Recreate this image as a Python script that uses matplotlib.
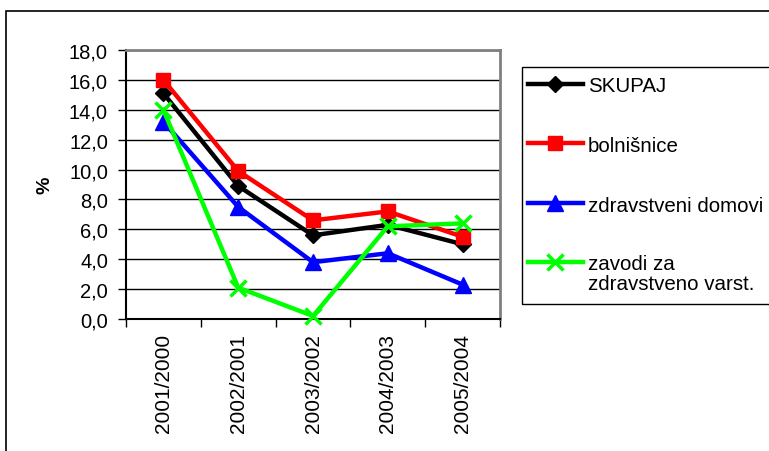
import matplotlib.pyplot as plt
from matplotlib.lines import Line2D
from matplotlib.patches import Rectangle

plt.rcParams["font.family"] = ["Liberation Sans", "DejaVu Sans"]

periods = ["2001/2000", "2002/2001", "2003/2002", "2004/2003", "2005/2004"]
skupaj = [15.1, 8.9, 5.6, 6.3, 5.0]
bolnisnice = [16.0, 9.9, 6.6, 7.2, 5.5]
zd_domovi = [13.2, 7.5, 3.8, 4.4, 2.3]
zavodi = [14.0, 2.1, 0.2, 6.2, 6.4]

series = [
    ("SKUPAJ", skupaj, "black", "D", 8),
    ("bolnišnice", bolnisnice, "#ff0000", "s", 10),
    ("zdravstveni domovi", zd_domovi, "#0000ff", "^", 11),
    ("zavodi za\nzdravstveno varst.", zavodi, "#00ff00", "x", 11),
]

W, H = 769, 452
fig = plt.figure(figsize=(W / 100, H / 100), dpi=100)


def fx(px):
    return px / W


def fy(py):
    return 1 - py / H


# outer chart frame (runs off the right and bottom edges)
fig.add_artist(Rectangle((fx(6), fy(470)), fx(800), fy(12) - fy(470),
                         transform=fig.transFigure, fill=False,
                         edgecolor="black", linewidth=1.2))

ax = fig.add_axes([fx(126), fy(320), fx(500) - fx(126), fy(51) - fy(320)])
x = list(range(len(periods)))

for label, vals, color, marker, ms in series:
    mew = 2.5 if marker == "x" else 1
    ax.plot(x, vals, color=color, linewidth=3.2, marker=marker,
            markersize=ms, markeredgewidth=mew, markeredgecolor=color,
            clip_on=False, zorder=3)

ax.set_xlim(-0.5, len(periods) - 0.5)
ax.set_ylim(0, 18)
ax.set_yticks([i * 2 for i in range(10)])
ax.set_yticklabels([f"{i * 2:.1f}".replace(".", ",") for i in range(10)], fontsize=14.5)
ax.yaxis.grid(True, color="black", linewidth=1)
ax.set_axisbelow(True)

# category labels sit between boundary ticks
ax.set_xticks([i - 0.5 for i in range(len(periods) + 1)])
ax.set_xticklabels([])
ax.set_xticks(x, minor=True)
ax.set_xticklabels(periods, minor=True, rotation=90, fontsize=15)
ax.tick_params(axis="x", which="major", length=6, width=1, color="black", direction="out")
ax.tick_params(axis="x", which="minor", length=0, pad=10)
ax.tick_params(axis="y", length=6, width=1, color="black", pad=7)

for side in ["top", "right"]:
    ax.spines[side].set_color("#808080")
    ax.spines[side].set_linewidth(2)
ax.spines["left"].set_color("black")
ax.spines["bottom"].set_color("black")
ax.spines["left"].set_linewidth(1.5)
ax.spines["bottom"].set_linewidth(1.5)

fig.text(fx(45), fy(185), "%", rotation=90, fontsize=14, fontweight="bold",
         ha="center", va="center")

# legend drawn by hand so the two-line entry keeps its handle on the first line
fig.add_artist(Rectangle((fx(522), fy(305)), fx(250), fy(68) - fy(305),
                         transform=fig.transFigure, fill=False,
                         edgecolor="black", linewidth=1))
rows = [85, 144, 204, 263]
for (label, vals, color, marker, ms), ry in zip(series, rows):
    mew = 2.5 if marker == "x" else 1
    fig.add_artist(Line2D([fx(528), fx(583)], [fy(ry), fy(ry)], color=color,
                          linewidth=3.2, transform=fig.transFigure))
    fig.add_artist(Line2D([fx(555)], [fy(ry)], color=color, marker=marker,
                          markersize=ms, markeredgewidth=mew, markeredgecolor=color,
                          transform=fig.transFigure))
    for k, line in enumerate(label.split("\n")):
        fig.text(fx(588), fy(ry + 7.5 + 20 * k), line, fontsize=14.8,
                 ha="left", va="baseline", transform=fig.transFigure)

fig.savefig("out.png", dpi=100)
